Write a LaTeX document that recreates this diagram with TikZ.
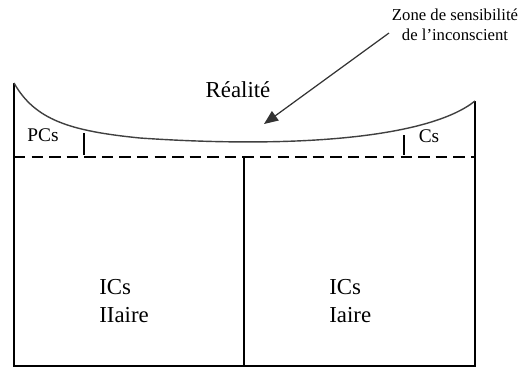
\documentclass[tikz,border=0pt]{standalone}
\usepackage{fontspec}
\setmainfont{Liberation Serif}
\usetikzlibrary{arrows.meta}

\begin{document}
\begin{tikzpicture}[x=0.02cm,y=-0.02cm,
  wall/.style={line width=1.1pt},
  lbl/.style={inner sep=0pt,font=\fontsize{13}{16}\selectfont},
  small/.style={inner sep=0pt,font=\fontsize{9.5}{11.5}\selectfont,align=center}]

\useasboundingbox (0,0) rectangle (525,370);

\coordinate (tl)  at (14,83);
\coordinate (tr)  at (475,101);
\coordinate (bl)  at (14,366);
\coordinate (br)  at (475,366);
\coordinate (dl)  at (14,157);
\coordinate (dr)  at (475,157);
\coordinate (mt)  at (244,157);
\coordinate (mb)  at (244,366);

\coordinate (pt)  at (84,133);
\coordinate (pb)  at (84,155);
\coordinate (ct)  at (404,135);
\coordinate (cb)  at (404,155);

\coordinate (as)  at (389,33);
\coordinate (ae)  at (264,124);

\node[small] (zone) at (455,25) {Zone de sensibilité\\de l'inconscient};
\node[lbl] (real) at (238,90) {Réalité};
\node[lbl,font=\fontsize{11}{13}\selectfont] (pcs) at (43,135) {PCs};
\node[lbl,font=\fontsize{11}{13}\selectfont] (cs)  at (429,136) {Cs};
\node[lbl,anchor=west] (ics2) at (99,287) {ICs};
\node[lbl,anchor=west] (ii)   at (99,315) {IIaire};
\node[lbl,anchor=west] (ics1) at (329,287) {ICs};
\node[lbl,anchor=west] (i)    at (329,315) {Iaire};

\draw[wall] (tl)--(bl)--(br)--(tr);
\draw[wall] (mt)--(mb);
\draw[wall,dash pattern=on 6.5pt off 3.5pt] (dl)--(dr);
\draw[wall] (pt)--(pb);
\draw[wall] (ct)--(cb);

\draw[line width=0.8pt,black!75] (tl) .. controls (35,120) and (70,131) .. (140,138)
  .. controls (300,149) and (430,137) .. (tr);

\draw[line width=0.7pt,black!80,-{Triangle[length=8pt,width=6.5pt]}] (as)--(ae);

\end{tikzpicture}
\end{document}
